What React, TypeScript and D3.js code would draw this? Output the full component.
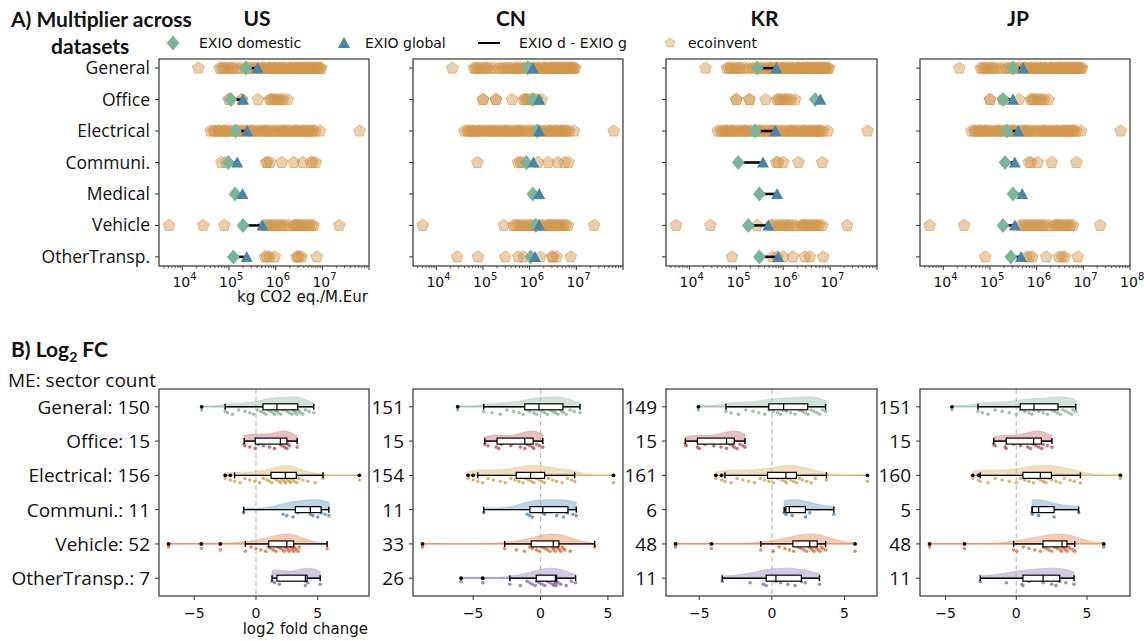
import React from "react";
import * as d3 from "d3";

// ---------------- DATA ----------------
const countries = ["US", "CN", "KR", "JP"];
const topSectors = ["General", "Office", "Electrical", "Communi.", "Medical", "Vehicle", "OtherTransp."];
const bottomSectors = ["General", "Office", "Electrical", "Communi.", "Vehicle", "OtherTransp."];
const topTicks = [1e4, 1e5, 1e6, 1e7, 1e8];
const topTickExp = ["4", "5", "6", "7", "8"];

// EXIO multipliers (kg CO2 eq./M.Eur), topSectors order
const exioDomesticUS = [2.3e5, 1.1e5, 1.38e5, 9.7e4, 1.35e5, 2.0e5, 1.24e5];
const exioGlobalUS = [4.1e5, 2.0e5, 2.45e5, 1.5e5, 1.95e5, 5.2e5, 2.4e5];
const exioDomesticCN = [9.1e5, 1.17e6, 1.45e6, 8.5e5, 1.17e6, 1.35e6, 1.05e6];
const exioGlobalCN = [1.17e6, 1.6e6, 1.6e6, 1.2e6, 1.6e6, 1.6e6, 1.3e6];
const exioDomesticKR = [2.8e5, 4.8e6, 2.5e5, 1.1e5, 3.1e5, 1.8e5, 3.1e5];
const exioGlobalKR = [7.1e5, 6.2e6, 6.8e5, 3.7e5, 7.4e5, 4.8e5, 7.8e5];
const exioDomesticJP = [3.1e5, 1.9e5, 2.3e5, 2.1e5, 3.1e5, 1.9e5, 2.8e5];
const exioGlobalJP = [5.1e5, 3.1e5, 4.0e5, 3.4e5, 4.9e5, 3.4e5, 4.6e5];

// ecoinvent multipliers
const ecoGeneral = [2.2e4, 6.3e4, 6.9e4, 7.6e4, 8.3e4, 9.3e4, 1.05e5, 1.15e5, 1.26e5, 1.5e5, 1.8e5, 2.2e5, 2.5e5, 2.8e5, 3.2e5, 3.5e5, 4.0e5, 4.5e5, 5.0e5, 5.5e5, 5.6e5, 6.3e5, 7.1e5, 7.5e5, 7.9e5, 8.9e5, 9.5e5, 1.0e6, 1.12e6, 1.2e6, 1.26e6, 1.4e6, 1.5e6, 1.6e6, 1.8e6, 2.0e6, 2.1e6, 2.2e6, 2.5e6, 2.6e6, 2.8e6, 3.0e6, 3.2e6, 3.3e6, 3.5e6, 3.8e6, 4.0e6, 4.2e6, 4.5e6, 4.8e6, 5.0e6, 5.3e6, 5.6e6, 6.0e6, 6.3e6, 6.7e6, 7.1e6, 7.5e6, 7.9e6, 8.4e6, 8.9e6, 9.5e6];
const ecoOffice = [1.0e5, 1.0e5, 1.9e5, 1.9e5, 4.2e5, 7.4e5, 8.0e5, 8.5e5, 9.5e5, 1.05e6, 1.15e6, 1.3e6, 1.45e6, 1.8e6];
const ecoElectrical = [4.0e4, 4.6e4, 5.0e4, 5.6e4, 6.0e4, 6.3e4, 7.1e4, 7.9e4, 8.0e4, 8.9e4, 1.0e5, 1.12e5, 1.26e5, 1.4e5, 1.5e5, 1.6e5, 1.8e5, 2.0e5, 2.2e5, 2.5e5, 2.8e5, 3.0e5, 3.2e5, 3.5e5, 4.0e5, 4.5e5, 5.0e5, 5.6e5, 6.0e5, 6.3e5, 7.1e5, 7.9e5, 8.9e5, 1.0e6, 1.12e6, 1.26e6, 1.4e6, 1.5e6, 1.6e6, 1.8e6, 2.0e6, 2.2e6, 2.5e6, 2.7e6, 2.8e6, 3.2e6, 3.5e6, 3.8e6, 4.0e6, 4.5e6, 4.8e6, 5.0e6, 5.6e6, 6.0e6, 6.3e6, 7.1e6, 8.9e6, 6.3e7];
const ecoCommuniUS = [6.9e4, 8.7e4, 6.3e5, 6.6e5, 7.6e5, 1.35e6, 2.45e6, 3.8e6, 5.6e6, 6.2e6, 7.2e6];
const ecoCommuniCN = [7.6e4, 5.6e5, 6.3e5, 7.1e5, 1.5e6, 2.5e6, 4.0e6, 5.6e6, 6.8e6];
const ecoCommuniKR = [7.1e5, 7.9e5, 1.0e6, 2.1e6, 6.8e6];
const ecoCommuniJP = [6.8e5, 7.6e5, 1.05e6, 2.1e6, 7.1e6];
const ecoMedical: number[] = [];
const ecoVehicleUS = [5.2e3, 2.8e4, 7.9e4, 5.6e5, 6.3e5, 7.1e5, 7.9e5, 8.9e5, 1.0e6, 1.12e6, 1.26e6, 1.4e6, 1.6e6, 1.9e6, 2.4e6, 2.6e6, 2.8e6, 3.0e6, 3.3e6, 3.6e6, 4.0e6, 4.4e6, 4.8e6, 5.3e6, 5.9e6, 6.5e6, 2.3e7];
const ecoVehicleCN = [5.1e3, 2.8e5, 4.5e5, 5.0e5, 5.6e5, 6.3e5, 7.1e5, 7.9e5, 8.9e5, 1.0e6, 1.12e6, 1.26e6, 1.4e6, 1.6e6, 1.8e6, 2.0e6, 2.4e6, 2.6e6, 2.8e6, 3.0e6, 3.3e6, 3.6e6, 4.0e6, 4.4e6, 4.8e6, 5.3e6, 5.9e6, 6.6e6, 2.4e7];
const ecoVehicleKR = [5.2e3, 2.8e4, 2.75e5, 5.4e5, 6.0e5, 6.8e5, 7.9e5, 8.9e5, 1.0e6, 1.12e6, 1.26e6, 1.4e6, 1.6e6, 1.9e6, 2.4e6, 2.6e6, 2.8e6, 3.0e6, 3.3e6, 3.6e6, 4.0e6, 4.4e6, 4.8e6, 5.3e6, 5.9e6, 6.8e6, 2.3e7];
const ecoVehicleJP = [5.1e3, 2.8e4, 4.4e5, 5.0e5, 5.6e5, 6.3e5, 7.1e5, 7.9e5, 8.9e5, 1.0e6, 1.12e6, 1.26e6, 1.4e6, 1.6e6, 1.9e6, 2.4e6, 2.6e6, 2.8e6, 3.0e6, 3.3e6, 3.6e6, 4.0e6, 4.4e6, 4.8e6, 5.3e6, 6.0e6, 2.3e7];
const ecoOtherUS = [5.9e5, 6.5e5, 7.4e5, 9.5e5, 2.8e6, 3.0e6, 3.2e6, 3.6e6, 7.6e6];
const ecoOtherCN = [2.8e4, 7.8e4, 3.0e5, 5.7e5, 7.4e5, 1.7e6, 3.0e6, 3.2e6, 3.8e6, 7.6e6];
const ecoOtherKR = [8.1e4, 5.9e5, 7.4e5, 1.0e6, 1.6e6, 2.9e6, 3.7e6, 7.1e6];
const ecoOtherJP = [7.9e4, 6.0e5, 7.0e5, 8.1e5, 1.6e6, 3.0e6, 3.5e6, 4.0e6, 7.6e6];

// log2 fold change, bottomSectors order
const countsUS = [150, 15, 156, 11, 52, 7];
const countsCN = [151, 15, 154, 11, 33, 26];
const countsKR = [149, 15, 161, 6, 48, 11];
const countsJP = [151, 15, 160, 5, 48, 11];

// [whisker low, q1, median, q3, whisker high]
const boxUS = [[-2.5, 0.57, 1.7, 3.38, 4.68], [-0.95, -0.06, 1.98, 2.5, 3.33], [-1.73, 1.22, 2.38, 3.27, 5.43], [-1.0, 3.19, 4.4, 5.27, 5.9], [-0.86, 1.03, 2.5, 3.05, 5.76], [1.3, 1.7, 4.0, 4.14, 5.2]];
const boxCN = [[-4.22, -1.17, -0.12, 1.66, 2.93], [-4.14, -3.23, -1.17, -0.55, 0.17], [-4.66, -1.81, -0.74, 0.3, 2.53], [-4.22, -0.79, 0.17, 2.03, 2.65], [-2.66, -0.69, 0.94, 1.36, 4.02], [-2.28, -0.32, 1.1, 1.19, 2.6]];
const boxKR = [[-3.16, -0.21, 0.81, 2.47, 3.7], [-5.96, -5.13, -3.12, -2.59, -1.85], [-3.23, -0.3, 0.97, 1.69, 3.76], [0.85, 0.97, 1.2, 2.31, 4.27], [-0.76, 1.45, 2.61, 3.12, 3.7], [-3.42, -0.39, 0.28, 2.03, 3.28]];
const boxJP = [[-2.71, 0.28, 1.25, 2.95, 4.2], [-1.6, -0.71, 1.23, 1.77, 2.52], [-2.55, 0.47, 1.7, 2.48, 4.53], [1.11, 1.13, 1.58, 2.67, 4.41], [-0.19, 1.89, 3.23, 3.58, 4.13], [-2.55, 0.47, 1.89, 3.07, 4.08]];

const stripUSGeneral = [-4.4, -2.5, -2.3, -1.9, -1.4, -0.9, -0.5, -0.2, 0.1, 0.4, 0.6, 0.8, 1.0, 1.2, 1.4, 1.5, 1.6, 1.7, 1.8, 2.0, 2.2, 2.5, 2.7, 2.9, 3.0, 3.1, 3.2, 3.3, 3.4, 3.5, 3.6, 3.8, 4.0, 4.3, 4.68];
const stripUSOffice = [-0.95, -0.9, -0.5, -0.06, 0.2, 0.6, 1.1, 1.5, 1.98, 2.1, 2.3, 2.5, 2.6, 2.7, 3.33];
const stripUSElectrical = [-2.49, -2.08, -1.73, -1.3, -0.9, -0.5, -0.1, 0.3, 0.6, 0.9, 1.1, 1.3, 1.5, 1.7, 1.9, 2.0, 2.1, 2.2, 2.3, 2.4, 2.5, 2.6, 2.7, 2.8, 2.9, 3.0, 3.1, 3.3, 3.5, 3.8, 4.2, 4.8, 5.43, 8.38];
const stripUSCommuni = [-1.0, 2.2, 2.5, 3.0, 3.4, 4.4, 4.6, 5.0, 5.3, 5.6, 5.9];
const stripUSVehicle = [-7.08, -4.43, -2.89, -0.86, -0.4, 0.0, 0.4, 0.8, 1.0, 1.2, 1.4, 1.6, 1.8, 2.0, 2.2, 2.3, 2.4, 2.5, 2.6, 2.7, 2.8, 2.9, 3.0, 3.05, 3.1, 3.2, 3.3, 3.4, 3.5, 5.76];
const stripUSOther = [1.3, 1.5, 1.9, 4.0, 4.05, 4.2, 5.2];

const stripCNGeneral = [-6.15, -4.22, -3.6, -3.0, -2.5, -2.0, -1.6, -1.3, -1.0, -0.8, -0.5, -0.3, -0.1, 0.1, 0.3, 0.5, 0.7, 0.9, 1.1, 1.3, 1.5, 1.6, 1.7, 1.9, 2.2, 2.5, 2.93];
const stripCNOffice = [-4.14, -3.9, -3.3, -3.1, -2.9, -2.2, -1.5, -1.17, -1.0, -0.8, -0.6, -0.5, -0.3, -0.1, 0.17];
const stripCNElectrical = [-5.38, -5.01, -4.66, -4.3, -3.9, -3.5, -3.0, -2.6, -2.2, -1.9, -1.6, -1.3, -1.1, -0.9, -0.7, -0.5, -0.3, -0.1, 0.1, 0.3, 0.6, 0.9, 1.2, 1.6, 2.0, 2.3, 2.53, 5.41];
const stripCNCommuni = [-4.22, -1.0, -0.8, -0.6, 0.17, 0.3, 1.2, 1.7, 2.0, 2.4, 2.65];
const stripCNVehicle = [-8.76, -2.66, -1.8, -1.2, -0.8, -0.6, -0.3, -0.1, 0.1, 0.3, 0.5, 0.7, 0.9, 0.94, 1.0, 1.1, 1.2, 1.3, 1.4, 1.5, 1.6, 1.7, 1.8, 2.2, 4.02];
const stripCNOther = [-5.9, -4.29, -2.28, -1.5, -1.0, -0.8, -0.6, -0.4, -0.3, -0.1, 0.1, 0.3, 0.5, 0.7, 0.9, 1.0, 1.05, 1.1, 1.1, 1.15, 1.2, 1.3, 1.5, 1.9, 2.3, 2.6];

const stripKRGeneral = [-5.06, -3.16, -2.8, -2.3, -1.8, -1.3, -0.9, -0.5, -0.2, 0.1, 0.4, 0.6, 0.8, 1.0, 1.3, 1.6, 1.9, 2.1, 2.3, 2.5, 2.7, 2.9, 3.1, 3.3, 3.5, 3.7];
const stripKROffice = [-5.96, -5.9, -5.13, -5.0, -4.6, -4.0, -3.5, -3.12, -2.9, -2.7, -2.6, -2.4, -2.2, -2.0, -1.85];
const stripKRElectrical = [-3.86, -3.46, -3.23, -2.8, -2.4, -2.0, -1.6, -1.2, -0.8, -0.5, -0.2, 0.1, 0.4, 0.7, 0.9, 1.0, 1.1, 1.3, 1.5, 1.7, 1.9, 2.1, 2.4, 2.7, 3.0, 3.76, 6.58];
const stripKRCommuni = [0.85, 0.97, 1.4, 2.31, 2.61, 4.27];
const stripKRVehicle = [-6.63, -4.16, -0.76, 0.1, 0.5, 0.9, 1.2, 1.5, 1.8, 2.0, 2.2, 2.4, 2.6, 2.7, 2.8, 2.9, 3.0, 3.1, 3.2, 3.3, 3.4, 3.5, 3.7, 5.73];
const stripKROther = [-3.42, -1.5, -0.6, -0.39, 0.28, 0.6, 1.1, 1.6, 2.03, 2.3, 3.28];

const stripJPGeneral = [-4.55, -2.71, -2.4, -2.0, -1.5, -1.0, -0.5, 0.0, 0.3, 0.6, 0.9, 1.1, 1.3, 1.6, 1.9, 2.2, 2.5, 2.7, 2.9, 3.1, 3.3, 3.5, 3.7, 3.9, 4.0, 4.2];
const stripJPOffice = [-1.6, -1.5, -0.8, -0.71, -0.2, 0.3, 0.8, 1.0, 1.23, 1.4, 1.6, 1.8, 1.9, 2.2, 2.52];
const stripJPElectrical = [-3.07, -2.67, -2.55, -2.0, -1.5, -1.0, -0.5, 0.0, 0.3, 0.6, 0.9, 1.2, 1.5, 1.7, 1.9, 2.1, 2.3, 2.5, 2.8, 3.1, 3.4, 3.8, 4.1, 4.53, 7.36];
const stripJPCommuni = [1.11, 1.13, 1.58, 2.67, 4.41];
const stripJPVehicle = [-6.13, -3.66, -0.19, 0.05, 0.5, 0.9, 1.3, 1.7, 1.9, 2.1, 2.3, 2.5, 2.7, 2.9, 3.1, 3.2, 3.3, 3.4, 3.5, 3.6, 3.7, 3.8, 4.0, 4.13, 6.18];
const stripJPOther = [-2.55, -0.7, 0.4, 0.47, 0.9, 1.89, 2.5, 2.8, 3.07, 3.5, 4.08];

// ---------------- assembly ----------------
const exioDomestic = [exioDomesticUS, exioDomesticCN, exioDomesticKR, exioDomesticJP];
const exioGlobal = [exioGlobalUS, exioGlobalCN, exioGlobalKR, exioGlobalJP];
const ecoinvent = [
  [ecoGeneral, ecoOffice, ecoElectrical, ecoCommuniUS, ecoMedical, ecoVehicleUS, ecoOtherUS],
  [ecoGeneral, ecoOffice, ecoElectrical, ecoCommuniCN, ecoMedical, ecoVehicleCN, ecoOtherCN],
  [ecoGeneral, ecoOffice, ecoElectrical, ecoCommuniKR, ecoMedical, ecoVehicleKR, ecoOtherKR],
  [ecoGeneral, ecoOffice, ecoElectrical, ecoCommuniJP, ecoMedical, ecoVehicleJP, ecoOtherJP],
];
const counts = [countsUS, countsCN, countsKR, countsJP];
const boxes = [boxUS, boxCN, boxKR, boxJP];
const strips = [
  [stripUSGeneral, stripUSOffice, stripUSElectrical, stripUSCommuni, stripUSVehicle, stripUSOther],
  [stripCNGeneral, stripCNOffice, stripCNElectrical, stripCNCommuni, stripCNVehicle, stripCNOther],
  [stripKRGeneral, stripKROffice, stripKRElectrical, stripKRCommuni, stripKRVehicle, stripKROther],
  [stripJPGeneral, stripJPOffice, stripJPElectrical, stripJPCommuni, stripJPVehicle, stripJPOther],
];

// ---------------- style ----------------
const W = 1144, H = 641;
const panelX: [number, number][] = [[159, 369], [413, 623], [666, 877], [920, 1130]];
const topY: [number, number] = [59, 266];
const botY: [number, number] = [389, 596];
const F_MPL = "'DejaVu Sans', sans-serif";
const F_LBL = "'Open Sans', sans-serif";
const F_TTL = "Lato, 'Open Sans', sans-serif";
const C_DOM = "#78b59b";
const C_GLO = "#4a84a8";
const C_ECO = "#d4964a";
const fillCols = ["#9cc4b0", "#cf7b7e", "#dcbd72", "#74a6c6", "#e59466", "#a58fc4"];
const dotCols = ["#8db8a2", "#c4585e", "#cfad5c", "#5d93b8", "#db7a4a", "#9079b3"];
const FRAME = "#333";

function pentagon(cx: number, cy: number, r: number) {
  const pts = d3.range(5).map((k) => {
    const a = -Math.PI / 2 + (k * 2 * Math.PI) / 5;
    return [cx + r * Math.cos(a), cy + r * Math.sin(a)];
  });
  return "M" + pts.map((p) => p.join(",")).join("L") + "Z";
}
function diamond(cx: number, cy: number, r: number) {
  return `M${cx},${cy - r}L${cx + r * 0.85},${cy}L${cx},${cy + r}L${cx - r * 0.85},${cy}Z`;
}
function triangle(cx: number, cy: number, r: number) {
  return `M${cx},${cy - r}L${cx + r},${cy + r * 0.85}L${cx - r},${cy + r * 0.85}Z`;
}

function TopPanel({ ci }: { ci: number }) {
  const [x0, x1] = panelX[ci];
  const x = d3.scaleLog().domain([Math.pow(10, 3.5), 1e8]).range([x0, x1]);
  const y = d3.scaleLinear().domain([-0.29, 6.29]).range(topY);
  const minor: number[] = [];
  [1e3, 1e4, 1e5, 1e6, 1e7].forEach((b) => {
    for (let m = 2; m <= 9; m++) {
      const v = b * m;
      if (v > x.domain()[0] && v < 1e8) minor.push(v);
    }
  });
  return (
    <g>
      {topSectors.map((s, r) => (
        <g key={"e" + r}>
          {ecoinvent[ci][r].map((v, i) => (
            <path key={i} d={pentagon(x(v), y(r), 6.2)} fill={C_ECO} fillOpacity={0.46} stroke={C_ECO} strokeOpacity={0.55} strokeWidth={1} />
          ))}
        </g>
      ))}
      {topSectors.map((s, r) => (
        <g key={"x" + r}>
          <line x1={x(exioDomestic[ci][r])} x2={x(exioGlobal[ci][r])} y1={y(r)} y2={y(r)} stroke="#000" strokeWidth={2.5} />
          <path d={diamond(x(exioDomestic[ci][r]), y(r), 7.5)} fill={C_DOM} />
          <path d={triangle(x(exioGlobal[ci][r]), y(r), 6)} fill={C_GLO} />
        </g>
      ))}
      <rect x={x0} y={topY[0]} width={x1 - x0} height={topY[1] - topY[0]} fill="none" stroke={FRAME} strokeWidth={1.2} />
      {topSectors.map((s, r) => (
        <g key={"t" + r}>
          <line x1={x0} x2={x0 - 4} y1={y(r)} y2={y(r)} stroke={FRAME} strokeWidth={1} />
          {ci === 0 && (
            <text x={x0 - 9} y={y(r) + 6} textAnchor="end" fontFamily={F_LBL} fontSize={17.5} fill="#111">
              {s}
            </text>
          )}
        </g>
      ))}
      {minor.map((v, i) => (
        <line key={"m" + i} x1={x(v)} x2={x(v)} y1={topY[1]} y2={topY[1] + 2.2} stroke={FRAME} strokeWidth={0.8} />
      ))}
      {topTicks.map((v, i) => {
        const show = v < 1e8 || ci === 3;
        return (
          <g key={"M" + i}>
            <line x1={x(v)} x2={x(v)} y1={topY[1]} y2={topY[1] + 4} stroke={FRAME} strokeWidth={1} />
            {show && (
              <g fontFamily={F_MPL} fill="#111">
                <text x={x(v) - 1} y={287} textAnchor="middle" fontSize={14}>10</text>
                <text x={x(v) + 8} y={280} fontSize={10}>{topTickExp[i]}</text>
              </g>
            )}
          </g>
        );
      })}
      {ci === 0 && (
        <text x={368} y={302} textAnchor="end" fontFamily={F_MPL} fontSize={15} fill="#111">
          kg CO2 eq./M.Eur
        </text>
      )}
      <text x={(x0 + x1) / 2 - 7} y={26} textAnchor="middle" fontFamily={F_TTL} fontWeight={700} fontSize={21} fill="#111">
        {countries[ci]}
      </text>
    </g>
  );
}

function BottomPanel({ ci }: { ci: number }) {
  const [x0, x1] = panelX[ci];
  const all = strips[ci].flat();
  const [mn, mx] = d3.extent(all) as [number, number];
  const pad = (mx - mn) * 0.05;
  const x = d3.scaleLinear().domain([mn - pad, mx + pad]).range([x0, x1]);
  const y = d3.scaleLinear().domain([-0.52, 5.52]).range(botY);
  const ticks = x.ticks(3);
  const VH = 10;
  return (
    <g>
      <line x1={x(0)} x2={x(0)} y1={botY[0]} y2={botY[1]} stroke="#c4c4c4" strokeWidth={1.3} strokeDasharray="5,3" />
      {bottomSectors.map((s, r) => {
        const vals = strips[ci][r];
        const n = counts[ci][r];
        const [lo, q1, med, q3, hi] = boxes[ci][r];
        const yc = y(r);
        const vmin = d3.min(vals)!;
        const vmax = d3.max(vals)!;
        const sd = d3.deviation(vals) || 1;
        const bw = sd * Math.pow(n, -0.2) * 0.9;
        const grid = d3.range(81).map((k) => vmin + ((vmax - vmin) * k) / 80);
        const dens = grid.map((g) => d3.mean(vals, (v) => Math.exp(-0.5 * ((g - v) / bw) ** 2))!);
        const maxD = d3.max(dens)!;
        const area = d3
          .area<number>()
          .x((_, k) => x(grid[k]))
          .y0(yc)
          .y1((d) => yc - (d / maxD) * VH)
          .curve(d3.curveBasis);
        const outliers = vals.filter((v) => v < lo - 1e-9 || v > hi + 1e-9);
        return (
          <g key={r}>
            <path d={area(dens)!} fill={fillCols[r]} fillOpacity={0.48} stroke={fillCols[r]} strokeOpacity={0.5} strokeWidth={0.8} />
            <line x1={x(vmin)} x2={x(vmax)} y1={yc} y2={yc} stroke={dotCols[r]} strokeWidth={1} strokeOpacity={0.9} />
            {vals.map((v, i) => (
              <circle key={i} cx={x(v)} cy={yc + 3.2 + (i % 4) * 1.4} r={1.8} fill={dotCols[r]} fillOpacity={0.85} />
            ))}
            <line x1={x(lo)} x2={x(q1)} y1={yc} y2={yc} stroke="#000" strokeWidth={1.4} />
            <line x1={x(q3)} x2={x(hi)} y1={yc} y2={yc} stroke="#000" strokeWidth={1.4} />
            <line x1={x(lo)} x2={x(lo)} y1={yc - 3} y2={yc + 3} stroke="#000" strokeWidth={1.4} />
            <line x1={x(hi)} x2={x(hi)} y1={yc - 3} y2={yc + 3} stroke="#000" strokeWidth={1.4} />
            <rect x={x(q1)} y={yc - 3} width={x(q3) - x(q1)} height={6} fill="#fff" stroke="#000" strokeWidth={1.2} />
            <line x1={x(med)} x2={x(med)} y1={yc - 3} y2={yc + 3} stroke="#000" strokeWidth={1.2} />
            {outliers.map((v, i) => (
              <circle key={"o" + i} cx={x(v)} cy={yc} r={1.9} fill="#000" />
            ))}
            <line x1={x0} x2={x0 - 4} y1={yc} y2={yc} stroke={FRAME} strokeWidth={1} />
            <text x={x0 - 9} y={yc + 7} textAnchor="end" fontFamily={F_LBL} fontSize={19} fill="#111">
              {ci === 0 ? `${s}: ${n}` : `${n}`}
            </text>
          </g>
        );
      })}
      <rect x={x0} y={botY[0]} width={x1 - x0} height={botY[1] - botY[0]} fill="none" stroke={FRAME} strokeWidth={1.2} />
      {ticks.map((t) => (
        <g key={t}>
          <line x1={x(t)} x2={x(t)} y1={botY[1]} y2={botY[1] + 4} stroke={FRAME} strokeWidth={1} />
          <text x={x(t)} y={618} textAnchor="middle" fontFamily={F_MPL} fontSize={14} fill="#111">
            {t < 0 ? "\u2212" + Math.abs(t) : String(t)}
          </text>
        </g>
      ))}
      {ci === 0 && (
        <text x={368} y={634} textAnchor="end" fontFamily={F_MPL} fontSize={15} fill="#111">
          log2 fold change
        </text>
      )}
    </g>
  );
}

export default function App() {
  return (
    <svg width={W} height={H} viewBox={`0 0 ${W} ${H}`} style={{ position: "absolute", left: 0, top: 0, background: "#fff" }}>
      <rect width={W} height={H} fill="#fff" />
      <text x={11} y={27} fontFamily={F_TTL} fontWeight={700} fontSize={21} fill="#111">A) Multiplier across</text>
      <text x={51} y={54} fontFamily={F_TTL} fontWeight={700} fontSize={21} fill="#111">datasets</text>
      <g fontFamily={F_MPL} fontSize={14} fill="#111">
        <path d={diamond(173, 43, 7.5)} fill={C_DOM} />
        <text x={199} y={48}>EXIO domestic</text>
        <path d={triangle(344, 43, 6)} fill={C_GLO} />
        <text x={365} y={48}>EXIO global</text>
        <line x1={478} x2={500} y1={43} y2={43} stroke="#000" strokeWidth={2} />
        <text x={519} y={48}>EXIO d - EXIO g</text>
        <path d={pentagon(670, 43, 5)} fill={C_ECO} fillOpacity={0.42} stroke={C_ECO} strokeOpacity={0.5} />
        <text x={688} y={48}>ecoinvent</text>
      </g>
      {countries.map((c, i) => (
        <TopPanel key={c} ci={i} />
      ))}
      <text x={11} y={357} fontFamily={F_TTL} fontWeight={700} fontSize={21} fill="#111">
        B) Log<tspan fontSize={14} dy={5}>2</tspan><tspan dy={-5}> FC</tspan>
      </text>
      <text x={8} y={387} fontFamily={F_LBL} fontSize={19} fill="#111">ME: sector count</text>
      {countries.map((c, i) => (
        <BottomPanel key={c} ci={i} />
      ))}
    </svg>
  );
}
